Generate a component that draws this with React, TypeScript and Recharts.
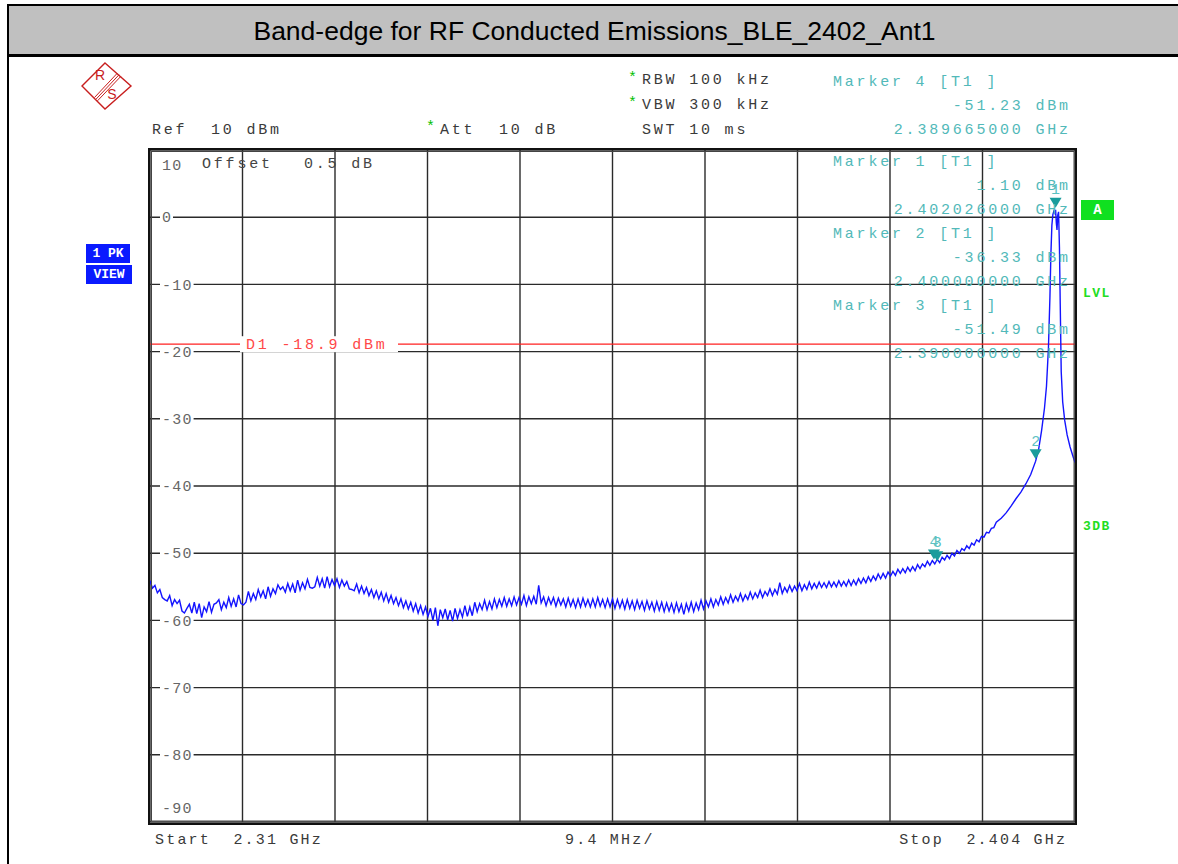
import React from 'react';
import { ComposedChart, Line, XAxis, YAxis, ReferenceLine, ReferenceDot } from 'recharts';

const TITLE = 'Band-edge for RF Conducted Emissions_BLE_2402_Ant1';

// Trace: noisy part, 0.25 MHz steps starting at 2310 MHz (dBm)
const NOISE_START_MHZ = 2310;
const NOISE_STEP_MHZ = 0.25;
const NOISE_LEVELS = [
  -54.1, -55.2, -54.8, -55.9, -55.4, -56.6, -56.9, -57.1, -56.3, -57.8, -56.9, -57.5,
  -57.0, -58.6, -58.9, -58.2, -57.6, -58.9, -57.3, -59.0, -57.5, -59.6, -58.0, -58.7,
  -57.2, -58.8, -57.6, -57.4, -56.9, -58.4, -57.3, -58.1, -56.6, -57.9, -56.8, -58.0,
  -56.2, -57.5, -57.7, -57.3, -55.7, -57.1, -56.0, -56.9, -55.4, -56.5, -55.6, -56.8,
  -55.0, -56.4, -55.3, -56.0, -54.7, -55.4, -55.0, -55.8, -54.5, -55.6, -54.6, -55.9,
  -54.0, -55.5, -54.4, -55.3, -53.9, -55.1, -55.2, -55.0, -53.6, -54.9, -53.8, -55.2,
  -53.5, -55.0, -53.9, -54.8, -53.8, -55.1, -54.0, -54.9, -54.2, -55.3, -55.4, -55.6,
  -54.6, -55.9, -54.9, -56.0, -55.1, -56.3, -55.4, -56.6, -55.6, -56.8, -55.8, -57.1,
  -56.0, -57.3, -56.3, -57.5, -56.6, -57.8, -56.8, -58.1, -57.1, -58.3, -57.3, -58.6,
  -57.5, -58.9, -57.8, -59.1, -58.0, -59.4, -58.2, -60.0, -58.1, -60.8, -58.4, -59.6,
  -58.3, -59.9, -58.5, -60.1, -58.2, -59.7, -58.4, -59.5, -57.8, -59.4, -58.0, -59.3,
  -57.3, -58.7, -57.5, -58.4, -57.0, -58.4, -57.2, -58.3, -56.8, -58.1, -56.9, -57.9,
  -56.6, -57.9, -56.8, -57.8, -56.5, -57.7, -56.6, -57.6, -56.3, -57.8, -56.5, -57.5,
  -56.4, -57.6, -54.8, -57.4, -56.5, -57.8, -56.6, -57.6, -56.6, -57.9, -56.7, -57.7,
  -56.8, -58.0, -56.7, -57.9, -56.9, -58.1, -56.8, -58.0, -56.7, -57.9, -56.9, -58.0,
  -56.8, -58.0, -56.6, -57.9, -56.9, -58.1, -56.8, -58.0, -56.8, -58.2, -56.9, -58.1,
  -57.0, -58.3, -56.9, -58.2, -57.1, -58.4, -57.0, -58.2, -57.2, -58.5, -57.1, -58.3,
  -57.3, -58.6, -57.2, -58.5, -57.3, -58.7, -57.4, -58.6, -57.5, -58.8, -57.4, -58.7,
  -57.6, -59.1, -57.5, -58.6, -57.3, -58.7, -57.4, -58.4, -57.0, -58.3, -57.1, -58.0,
  -56.8, -58.0, -56.9, -57.7, -56.5, -57.6, -56.6, -57.4, -56.2, -57.3, -56.4, -57.1,
  -56.0, -57.1, -56.2, -56.9, -55.8, -56.8, -55.9, -56.6, -55.5, -56.6, -55.7, -56.3,
  -55.3, -56.3, -55.4, -56.1, -54.4, -56.0, -55.1, -55.8, -54.8, -55.7, -54.9, -55.6,
  -54.5, -55.6, -54.7, -55.4, -54.3, -55.3, -54.5, -55.2, -54.3, -55.1, -54.4, -55.1,
  -54.2, -55.0, -54.3, -55.0, -54.1, -54.9, -54.2, -54.9, -54.0, -54.8, -54.0, -54.7,
  -53.8, -54.5, -53.7, -54.4, -53.5, -54.2, -53.4, -54.0, -53.1, -53.8, -53.0, -53.7,
  -52.8, -53.4, -52.7, -53.3, -52.4, -53.0, -52.3, -52.9, -52.1, -52.7, -52.0, -52.6,
  -51.7, -52.3, -51.6, -52.0, -51.2, -51.8, -51.1, -51.6, -50.9, -51.4, -50.6, -51.0,
  -50.3, -50.8, -50.0, -50.4, -49.6, -50.0, -49.3, -49.6, -48.9, -49.3, -48.5, -48.8,
  -48.0, -48.3, -47.5, -47.6, -46.9, -47.0, -46.3, -46.2, -45.4,
];

// Trace: carrier skirt and peak
const PEAK_FREQS = [
  2396.5, 2397, 2397.5, 2398, 2398.5, 2399, 2399.5, 2400, 2400.3, 2400.6,
  2400.9, 2401.1, 2401.3, 2401.45, 2401.55, 2401.65, 2401.75, 2401.85, 2401.95, 2402.03,
  2402.1, 2402.17, 2402.25, 2402.33, 2402.42, 2402.5, 2402.6, 2402.75, 2402.95, 2403.2,
  2403.5, 2403.8, 2404,
];
const PEAK_LEVELS = [
  -44.8, -44.0, -43.0, -41.9, -40.9, -39.7, -38.3, -36.3, -34.6, -31.8,
  -28.4, -25.2, -19.5, -12.0, -5.5, -1.2, 0.4, 0.9, 0.6, 1.1,
  -0.8, -1.9, 0.3, 0.8, -4.5, -13.0, -23.0, -27.5, -30.2, -32.4,
  -34.2, -35.6, -36.5,
];

const Y_TICKS = [10, 0, -10, -20, -30, -40, -50, -60, -70, -80, -90];
const X_TICKS = [2310, 2319.4, 2328.8, 2338.2, 2347.6, 2357, 2366.4, 2375.8, 2385.2, 2394.6, 2404];
const X_LABELS = ['Start  2.31 GHz', '9.4 MHz/', 'Stop  2.404 GHz'];

const MARKER_IDS = ['4', '3', '2', '1'];
const MARKER_FREQS = [2389.665, 2390.0, 2400.0, 2402.026];
const MARKER_LEVELS = [-51.23, -51.49, -36.33, 1.10];
const MARKER_FREQ_TEXT = ['2.389665000 GHz', '2.390000000 GHz', '2.400000000 GHz', '2.402026000 GHz'];
const MARKER_LEVEL_TEXT = ['-51.23 dBm', '-51.49 dBm', '-36.33 dBm', '1.10 dBm'];

const DISPLAY_LINE = -18.9;
const DISPLAY_LINE_NAME = 'D1';

const SETTINGS = ['RBW 100 kHz', 'VBW 300 kHz', 'SWT 10 ms'];

const traceData = [
  ...NOISE_LEVELS.map((v, i) => ({ f: NOISE_START_MHZ + i * NOISE_STEP_MHZ, level: v })),
  ...PEAK_FREQS.map((f, i) => ({ f, level: PEAK_LEVELS[i] })),
];

const MONO = "'Liberation Mono', 'DejaVu Sans Mono', monospace";
const FS = 15;
const LS = 2.8;
const TICK_LS = 1.3;
const W = 1178;
const H = 864;
const PLOT = { left: 150, top: 150, right: 1075, bottom: 822 };
const GRID = '#2a2a2a';

function Txt(p: { x?: number; right?: number; y: number; color?: string; bold?: boolean; children: React.ReactNode; size?: number; ls?: number }) {
  const ls = p.ls ?? LS;
  const style: React.CSSProperties = {
    position: 'absolute',
    top: p.y - 9,
    lineHeight: '18px',
    height: 18,
    fontFamily: MONO,
    fontSize: p.size ?? FS,
    letterSpacing: ls,
    color: p.color ?? '#3a3a3a',
    whiteSpace: 'pre',
    fontWeight: p.bold ? 700 : 400,
  };
  if (p.right !== undefined) style.right = W - p.right - ls;
  else style.left = p.x;
  return <span style={style}>{p.children}</span>;
}

const YTickLabel = (props: any) => {
  const { viewBox, value } = props;
  const y = viewBox.y;
  const label = String(value);
  const first = value === Y_TICKS[0];
  const last = value === Y_TICKS[Y_TICKS.length - 1];
  let ty = y;
  if (first) ty = y + 15;
  if (last) ty = y - 14;
  const x0 = PLOT.left + 12;
  const w = label.length * (FS * 0.6 + TICK_LS) - TICK_LS;
  return (
    <g>
      {!first && !last && <rect x={x0 - 2} y={ty - 7} width={w + 4} height={14} fill="#ffffff" />}
      <text x={x0} y={ty} dy="0.35em" fill="#666666" fontFamily={MONO} fontSize={FS} style={{ letterSpacing: `${TICK_LS}px` }}>
        {label}
      </text>
    </g>
  );
};

const DLabel = (props: any) => {
  const vb = props.viewBox || {};
  const y = vb.y;
  return (
    <g>
      <rect x={240} y={y - 8} width={158} height={16} fill="#ffffff" />
      <text x={246} y={y} dy="0.35em" fill="#ff4848" fontFamily={MONO} fontSize={FS} style={{ letterSpacing: `${LS}px` }}>
        {`${DISPLAY_LINE_NAME} ${DISPLAY_LINE} dBm`}
      </text>
    </g>
  );
};

const markerShape = (id: string) => (props: any) => {
  const { cx, cy } = props;
  return (
    <g>
      <polygon points={`${cx - 6},${cy - 12} ${cx + 6},${cy - 12} ${cx},${cy - 2}`} fill="#1a9c9c" />
      <text x={cx} y={cy - 21} dy="0.35em" textAnchor="middle" fill="#5cc2c2" fontFamily={MONO} fontSize={FS}>
        {id}
      </text>
    </g>
  );
};

export default function App() {
  return (
    <div style={{ position: 'absolute', left: 0, top: 0, width: W, height: H, background: '#ffffff', overflow: 'hidden' }}>
      {/* title band */}
      <div
        style={{
          position: 'absolute', left: 7, top: 4, width: W - 7, height: 53, boxSizing: 'border-box',
          borderTop: '2px solid #000', borderBottom: '3px solid #000', borderLeft: '2px solid #000',
          background: '#c0c0c0', textAlign: 'center', fontFamily: "'Liberation Sans', Arial, sans-serif",
          fontSize: 26.5, lineHeight: '50px', color: '#000',
        }}
      >
        <span style={{ position: 'relative', left: 1 }}>{TITLE}</span>
      </div>
      <div style={{ position: 'absolute', left: 7, top: 4, width: 2, height: H, background: '#000' }} />

      <div style={{ position: 'absolute', left: 0, top: 0 }}>
        <ComposedChart
          width={W}
          height={H}
          data={traceData}
          margin={{ top: PLOT.top, left: PLOT.left, right: W - PLOT.right, bottom: H - PLOT.bottom }}
        >
          <XAxis
            dataKey="f"
            type="number"
            domain={[X_TICKS[0], X_TICKS[X_TICKS.length - 1]]}
            ticks={X_TICKS}
            hide
            allowDataOverflow
          />
          <YAxis
            type="number"
            domain={[Y_TICKS[Y_TICKS.length - 1], Y_TICKS[0]]}
            ticks={Y_TICKS}
            hide
            allowDataOverflow
          />
          {X_TICKS.map((t) => (
            <ReferenceLine key={`x${t}`} x={t} stroke={GRID} strokeWidth={1.4} />
          ))}
          {Y_TICKS.map((t) => (
            <ReferenceLine key={`y${t}`} y={t} stroke={GRID} strokeWidth={1.4} label={<YTickLabel value={t} />} />
          ))}
          <ReferenceLine y={DISPLAY_LINE} stroke="#ff2020" strokeWidth={1.2} label={<DLabel />} />
          <Line
            dataKey="level"
            type="linear"
            stroke="#1414ff"
            strokeWidth={1.4}
            dot={false}
            isAnimationActive={false}
          />
          {MARKER_IDS.map((id, i) => (
            <ReferenceDot key={id} x={MARKER_FREQS[i]} y={MARKER_LEVELS[i]} r={0} shape={markerShape(id)} />
          ))}
        </ComposedChart>
      </div>

      {/* decorations */}
      <svg width={W} height={H} style={{ position: 'absolute', left: 0, top: 0, pointerEvents: 'none' }}>
        <rect x={149} y={149} width={927} height={675} fill="none" stroke="#111" strokeWidth={2} />
        <rect x={151.5} y={151.5} width={922.5} height={669.5} fill="none" stroke="#444" strokeWidth={1} />
        {/* R&S logo */}
        <polygon points="105,63 131,86 105,109 82,86" fill="none" stroke="#c81e1e" strokeWidth={1.4} />
        <line x1={117} y1={73.5} x2={94.5} y2={97.5} stroke="#c81e1e" strokeWidth={1} />
        <line x1={119} y1={74.8} x2={96} y2={99.2} stroke="#c81e1e" strokeWidth={1} />
        <line x1={121} y1={76.2} x2={97.5} y2={100.8} stroke="#c81e1e" strokeWidth={1} />
        <text x={100} y={80} textAnchor="middle" fill="#c81e1e" fontFamily="'Liberation Sans', sans-serif" fontSize={14}>R</text>
        <text x={112} y={99} textAnchor="middle" fill="#c81e1e" fontFamily="'Liberation Sans', sans-serif" fontSize={14}>S</text>
      </svg>

      {/* header settings */}
      <Txt x={628} y={79} color="#00c000">*</Txt>
      <Txt x={642} y={81}>{SETTINGS[0]}</Txt>
      <Txt x={628} y={104} color="#00c000">*</Txt>
      <Txt x={642} y={106}>{SETTINGS[1]}</Txt>
      <Txt x={642} y={131}>{SETTINGS[2]}</Txt>
      <Txt x={152} y={131}>{'Ref  10 dBm'}</Txt>
      <Txt x={426} y={128} color="#00c000">*</Txt>
      <Txt x={440} y={131}>{'Att  10 dB'}</Txt>
      <Txt x={202} y={165} color="#444">{'Offset'}</Txt>
      <Txt x={304} y={165} color="#444">{'0.5 dB'}</Txt>

      {/* marker readouts */}
      {[0, 3, 2, 1].map((mi, k) => {
        const y0 = 83 + k * 72 + (k > 0 ? 8 : 0);
        return (
          <React.Fragment key={mi}>
            <Txt x={833} y={y0} color="#52b9b9">{`Marker ${MARKER_IDS[mi]} [T1 ]`}</Txt>
            <Txt right={1068} y={y0 + 24} color="#52b9b9">{MARKER_LEVEL_TEXT[mi]}</Txt>
            <Txt right={1068} y={y0 + 48} color="#52b9b9">{MARKER_FREQ_TEXT[mi]}</Txt>
          </React.Fragment>
        );
      })}

      {/* side indicators */}
      <div style={{ position: 'absolute', left: 1081, top: 200, width: 33, height: 20, background: '#10e020', color: '#fff', fontFamily: MONO, fontWeight: 700, fontSize: 14, lineHeight: '20px', textAlign: 'center' }}>A</div>
      <Txt x={1083} y={294} color="#22dd22" bold size={13} ls={1.5}>LVL</Txt>
      <Txt x={1083} y={527} color="#22dd22" bold size={13} ls={1.5}>3DB</Txt>
      <div style={{ position: 'absolute', left: 86, top: 244, width: 44, height: 19, background: '#0a1aff', color: '#fff', fontFamily: MONO, fontWeight: 700, fontSize: 13, lineHeight: '19px', whiteSpace: 'pre', textAlign: 'center' }}>1 PK</div>
      <div style={{ position: 'absolute', left: 86, top: 265, width: 46, height: 19, background: '#0a1aff', color: '#fff', fontFamily: MONO, fontWeight: 700, fontSize: 13, lineHeight: '19px', textAlign: 'center' }}>VIEW</div>

      {/* bottom labels */}
      <Txt x={155} y={841} ls={2.2}>{X_LABELS[0]}</Txt>
      <Txt x={565} y={841} ls={2.2}>{X_LABELS[1]}</Txt>
      <Txt right={1065} y={841} ls={2.2}>{X_LABELS[2]}</Txt>
    </div>
  );
}
